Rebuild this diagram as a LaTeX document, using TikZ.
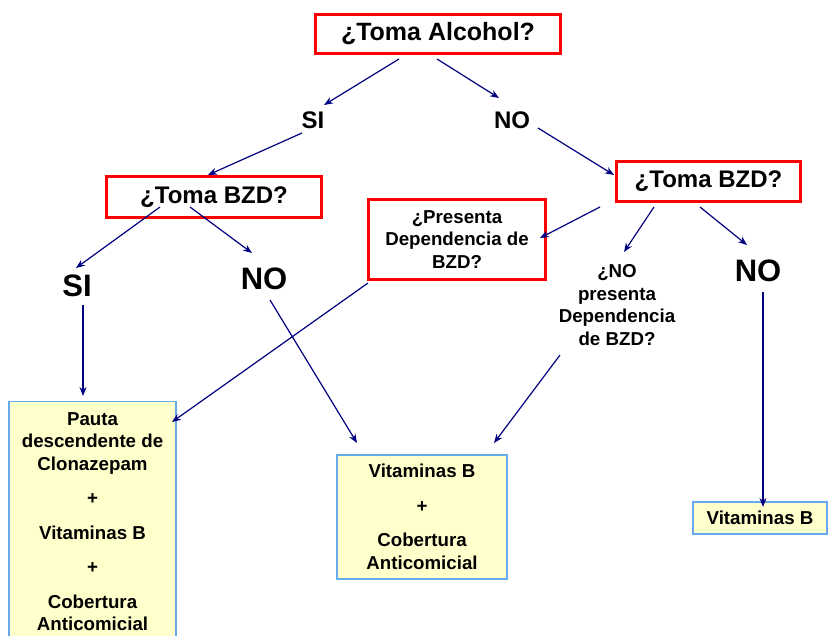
\documentclass[tikz,border=0pt]{standalone}
\usepackage{fontspec}
\setmainfont{Liberation Sans}
\usetikzlibrary{arrows.meta,calc}
\definecolor{navy}{RGB}{0,0,128}
\definecolor{boxfill}{RGB}{255,255,204}
\definecolor{boxline}{RGB}{102,170,238}
\tikzset{
  qbox/.style={draw=red, line width=3pt, inner sep=0pt, align=center,
    font=\bfseries\fontsize{24}{28}\selectfont},
  pbox/.style={draw=red, line width=3pt, inner sep=0pt, align=center,
    font=\bfseries\fontsize{18.7}{22.5}\selectfont},
  small/.style={align=center, inner sep=0pt, font=\bfseries\fontsize{18.7}{22.5}\selectfont},
  ansA/.style={inner sep=0pt, font=\bfseries\fontsize{24}{28}\selectfont},
  ansB/.style={inner sep=0pt, font=\bfseries\fontsize{31}{36}\selectfont},
  rbox/.style={draw=boxline, fill=boxfill, line width=1.2pt, align=center,
    font=\bfseries\fontsize{18.7}{22.5}\selectfont},
  arr/.style={draw=navy, line width=1.2pt, -{Stealth[length=9pt,width=7pt]}}
}
\begin{document}
\begin{tikzpicture}[x=1pt,y=-1pt]
\useasboundingbox (0,0) rectangle (832,636);
\clip (0,0) rectangle (832,636);
\fill[white] (0,0) rectangle (832,636);
% question boxes
\node[qbox, minimum width=245pt, minimum height=39pt, font=\bfseries\fontsize{25}{29}\selectfont] (alc) at (438,34) {¿Toma Alcohol?};
\node[qbox, minimum width=215pt, minimum height=41pt] (bzdL) at (214,197) {¿Toma BZD?};
\node[qbox, minimum width=184pt, minimum height=40pt] (bzdR) at (708.5,181.5) {¿Toma BZD?};
\node[pbox, minimum width=177pt, minimum height=80pt] (pres) at (457,239.5) {¿Presenta\\Dependencia de\\BZD?};
% answers
\node[ansA] (si1) at (313,120) {SI};
\node[ansA] (no1) at (512,120) {NO};
\node[ansB] (si2) at (77,286) {SI};
\node[ansB] (no2) at (264,279) {NO};
\node[ansB] (no3) at (758,271) {NO};
\node[small] (nopres) at (617,305) {¿NO\\presenta\\Dependencia\\de BZD?};
% result boxes
\node[rbox, anchor=north, minimum width=167pt, inner xsep=0pt, inner ysep=11pt] (boxL) at (92.5,401)
  {Pauta\\descendente de\\Clonazepam\\[12pt]+\\[12pt]Vitaminas B\\[12pt]+\\[12pt]Cobertura\\Anticomicial};
\node[rbox, minimum width=170pt, minimum height=124pt, inner sep=0pt] (boxM) at (422,517)
  {Vitaminas B\\[12pt]+\\[12pt]Cobertura\\Anticomicial};
\node[rbox, minimum width=134pt, minimum height=32pt, inner sep=0pt] (boxR) at (760,518) {Vitaminas B};
% connectors
\draw[arr] ($(alc)+(-39,25)$) -- ($(si1)+(11,-15)$);
\draw[arr] ($(alc)+(-1,25)$) -- ($(no1)+(-13,-22)$);
\draw[arr] ($(si1)+(-11,13)$) -- ($(bzdL)+(-6,-22)$);
\draw[arr] ($(no1)+(26,8)$) -- ($(bzdR)+(-94.5,-6.5)$);
\draw[arr] ($(bzdL)+(-54,10)$) -- ($(si2)+(-1,-18)$);
\draw[arr] ($(bzdL)+(-24,10)$) -- ($(no2)+(-12,-26)$);
\draw[arr] ($(bzdR)+(-108.5,25.5)$) -- ($(pres)+(83,-1.5)$);
\draw[arr] ($(bzdR)+(-54.5,25.5)$) -- ($(nopres)+(7,-53)$);
\draw[arr] ($(bzdR)+(-8.5,25.5)$) -- ($(no3)+(-11,-26)$);
\draw[arr] ($(si2)+(6,19)$) -- ($(boxL.north)+(-9.5,-5)$);
\draw[arr] ($(pres)+(-89,43.5)$) -- ($(boxL.north)+(79.5,21)$);
\draw[arr] ($(no2)+(6,21)$) -- ($(boxM)+(-65,-74)$);
\draw[arr] ($(nopres)+(-57,50)$) -- ($(boxM)+(72,-74)$);
\draw[arr] ($(no3)+(5,21)$) -- ($(boxR)+(3,-11)$);
\end{tikzpicture}
\end{document}
